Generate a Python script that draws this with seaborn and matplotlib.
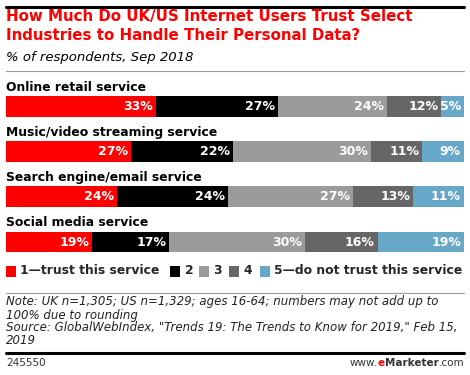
import numpy as np
import pandas as pd
import matplotlib
matplotlib.use("Agg")
import matplotlib.pyplot as plt
from matplotlib.lines import Line2D
from matplotlib.patches import Rectangle
import seaborn as sns

# data
services = ["Online retail service", "Music/video streaming service",
            "Search engine/email service", "Social media service"]
trust_1 = [33, 27, 24, 19]
trust_2 = [27, 22, 24, 17]
trust_3 = [24, 30, 27, 30]
trust_4 = [12, 11, 13, 16]
trust_5 = [5, 9, 11, 19]
levels = ["1\u2014trust this service", "2", "3", "4", "5\u2014do not trust this service"]
colors = ["#ff0000", "#000000", "#9b9b9b", "#666666", "#67a8c9"]

sns.set_theme(style="white")
plt.rcParams["font.family"] = ["DejaVu Sans"]

W, H = 470, 375
fig = plt.figure(figsize=(W / 100, H / 100), dpi=100)
fig.patch.set_facecolor("white")


def fx(x):
    return x / W


def fy(y):
    return 1 - y / H


# bars are stretched to full width (rows don't sum to exactly 100)
vals = np.array([trust_1, trust_2, trust_3, trust_4, trust_5], dtype=float)
shares = vals / vals.sum(axis=0) * 100
cum = shares.cumsum(axis=0)

left, right = 6, 464
top_px, bot_px = 84.0, 264.6
ax = fig.add_axes([fx(left), fy(bot_px), (right - left) / W, (bot_px - top_px) / H])

# draw from the longest cumulative (back) to the shortest (front)
for i in range(4, -1, -1):
    df = pd.DataFrame({"service": services, "value": cum[i]})
    sns.barplot(data=df, x="value", y="service", orient="h", color=colors[i],
                saturation=1, width=0.46, linewidth=0, ax=ax)

ax.set_xlim(0, 100)
ax.set_ylim(3.5, -0.5)
ax.axis("off")

# value labels inside segments
for r in range(4):
    for i in range(5):
        ax.annotate(f"{vals[i, r]:.0f}%", xy=(cum[i, r], r), xytext=(-2.2, 0),
                    textcoords="offset points", ha="right", va="center",
                    color="white", fontsize=9, fontweight="bold")
    ax.text(0, r - 0.43, services[r], ha="left", va="center",
            fontsize=8.9, fontweight="bold", color="black")

# header
fig.add_artist(Line2D([fx(6), fx(464)], [fy(6.5), fy(6.5)], color="black", lw=2.2))
fig.text(fx(6), fy(16), "How Much Do UK/US Internet Users Trust Select",
         color="#ff0000", fontsize=10.8, fontweight="bold", va="center")
fig.text(fx(6), fy(36), "Industries to Handle Their Personal Data?",
         color="#ff0000", fontsize=10.8, fontweight="bold", va="center")
fig.text(fx(6), fy(57), "% of respondents, Sep 2018",
         color="black", fontsize=9.5, style="italic", va="center")
fig.add_artist(Line2D([fx(6), fx(464)], [fy(70.5), fy(70.5)], color="#9a9a9a", lw=0.8))

# legend built by hand
fig.canvas.draw()
renderer = fig.canvas.get_renderer()
swatch_x = [6, 170, 199, 229, 260]
for sx, lab, c in zip(swatch_x, levels, colors):
    fig.add_artist(Rectangle((fx(sx), fy(276.5)), 10 / W, 10.5 / H,
                             transform=fig.transFigure, facecolor=c, edgecolor="none"))
    fig.text(fx(sx + 14.5), fy(270.5), lab, fontsize=8.9, fontweight="bold",
             va="center", ha="left")

fig.add_artist(Line2D([fx(6), fx(464)], [fy(292.5), fy(292.5)], color="#9a9a9a", lw=0.8))

notes = ["Note: UK n=1,305; US n=1,329; ages 16-64; numbers may not add up to",
         "100% due to rounding",
         "Source: GlobalWebIndex, \"Trends 19: The Trends to Know for 2019,\" Feb 15,",
         "2019"]
for k, line in enumerate(notes):
    fig.text(fx(6), fy(302 + 13 * k), line, fontsize=8.5, style="italic",
             color="#222222", va="center")

fig.add_artist(Line2D([fx(6), fx(464)], [fy(352.5), fy(352.5)], color="black", lw=2.2))
fig.text(fx(6), fy(363), "245550", fontsize=7.5, color="#333333", va="center")

# www.eMarketer.com, assembled right to left
xr = 464
for part, col, wt in [(".com", "#333333", "normal"), ("Marketer", "#333333", "bold"),
                      ("e", "#ff0000", "bold"), ("www.", "#333333", "normal")]:
    t = fig.text(fx(xr), fy(363), part, fontsize=7.5, color=col, fontweight=wt,
                 va="center", ha="right")
    xr -= t.get_window_extent(renderer).width

fig.savefig("out.png", dpi=100, facecolor="white")
